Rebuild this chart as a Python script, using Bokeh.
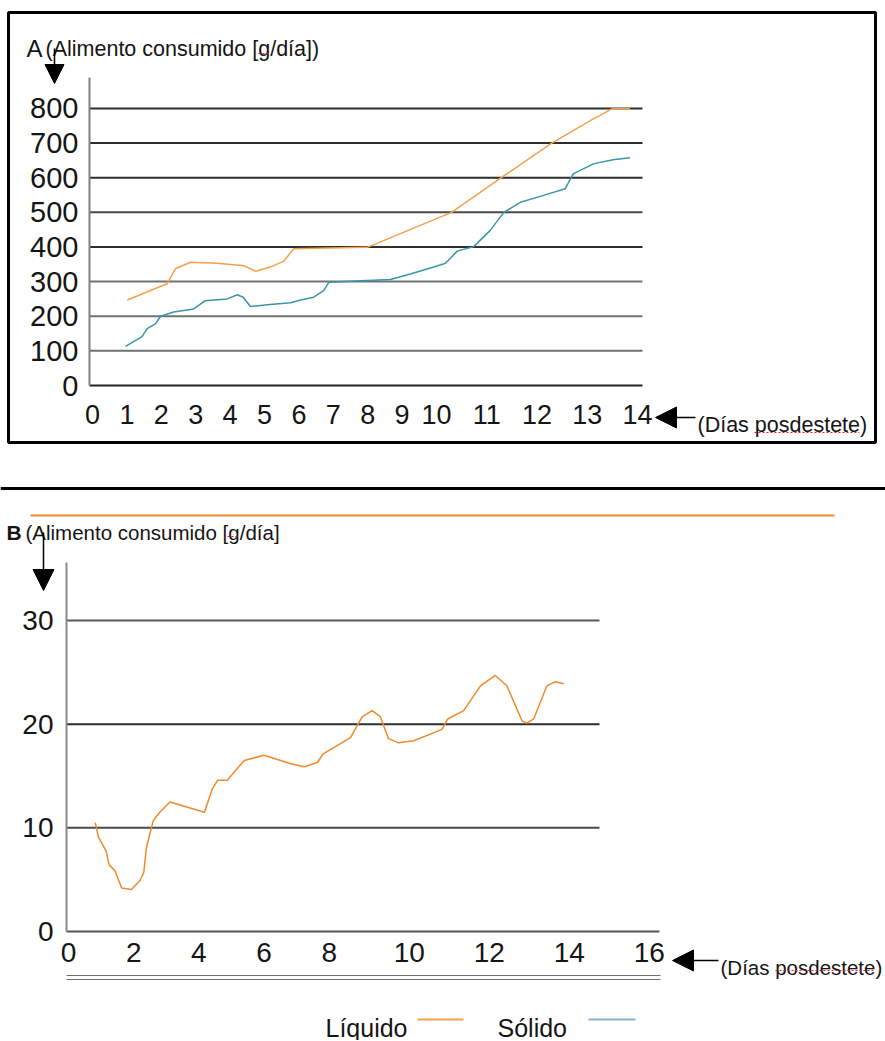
import numpy as np
from bokeh.plotting import figure
from bokeh.layouts import column
from bokeh.models import Range1d, FixedTicker, Label, Arrow, NormalHead, BoxAnnotation
from bokeh.embed import file_html
from bokeh.resources import INLINE

# ---------------- data ----------------
# Panel A: alimento consumido [g/día] vs días posdestete
dias_liquido_a = [1.01, 2.17, 2.41, 2.85, 3.62, 4.40, 4.74, 5.17, 5.56, 5.85, 7.99,
                  10.3, 11.24, 12.27, 13.06, 13.49, 13.85]
liquido_a = [247, 294, 337, 356, 353, 346, 330, 342, 359, 395, 399,
             500, 595, 698, 765, 799, 799]

dias_solido_a = [0.96, 1.44, 1.59, 1.83, 1.98, 2.36, 2.94, 3.28, 3.92, 4.21, 4.38,
                 4.59, 5.08, 5.76, 6.05, 6.43, 6.72, 6.87, 7.99, 8.66, 9.24, 9.92,
                 10.18, 10.41, 10.74, 11.07, 11.34, 11.67, 12.13, 12.56, 12.72,
                 13.12, 13.51, 13.85]
solido_a = [113, 141, 164, 178, 200, 212, 221, 245, 250, 262, 255,
            228, 233, 239, 247, 255, 274, 298, 303, 306, 322, 342,
            353, 388, 401, 448, 500, 529, 549, 568, 611,
            640, 652, 658]

# Panel B: alimento consumido [g/día] vs días posdestete
dias_liquido_b = [0.82, 0.92, 1.15, 1.25, 1.42, 1.63, 1.93, 2.19, 2.31, 2.39, 2.6,
                  2.8, 3.11, 4.17, 4.41, 4.58, 4.87, 5.39, 6.0, 6.8, 7.23, 7.64,
                  7.8, 8.53, 8.82, 9.07, 9.28, 9.48, 9.73, 10.11, 10.82, 10.96,
                  11.36, 11.78, 12.15, 12.44, 12.82, 12.94, 13.11, 13.44, 13.65, 13.86]
liquido_b = [10.5, 9.1, 7.8, 6.4, 5.9, 4.2, 4.05, 4.9, 5.7, 8.1, 10.7,
             11.5, 12.5, 11.5, 13.75, 14.6, 14.6, 16.5, 17.0, 16.2, 15.9, 16.3,
             17.1, 18.7, 20.7, 21.3, 20.7, 18.6, 18.2, 18.4, 19.5, 20.5,
             21.3, 23.7, 24.7, 23.7, 20.3, 20.1, 20.5, 23.7, 24.1, 23.9]

ticks_y_a = [0, 100, 200, 300, 400, 500, 600, 700, 800]
ticks_x_a = list(range(0, 15))
ticks_y_b = [0, 10, 20, 30]
ticks_x_b = [0, 2, 4, 6, 8, 10, 12, 14, 16]
grid_a = [100, 200, 300, 400, 500, 600, 700, 800]
grid_b = [10, 20, 30]

titulo_y = "(Alimento consumido [g/día])"
titulo_y_b = "(Alimento consumido [g/día]"
titulo_x = "(Días posdestete)"
serie_liq = "Líquido"
serie_sol = "Sólido"

# ---------------- styles ----------------
FONT = "Liberation Sans"
C_LIQ_A = "#f5a04c"
C_SOL_A = "#3a96a8"
C_LIQ_B = "#f08a2c"
C_LEG_SOL = "#86b4cc"
C_TXT = "#151515"
C_SQUIG = "#e02020"
GRID_COLORS_A = ["#727272", "#727272", "#727272", "#2e2e2e", "#4a4a4a", "#2e2e2e",
                 "#2e2e2e", "#2e2e2e"]
GRID_COLORS_B = ["#4a4a4a", "#2e2e2e", "#5a5a5a"]
W = 885

# irregular spacing of the original day axes
SPLIT_A, K_A = 10, 50.25 / 34.4
SPLIT_B, K_B = 8, 40.0 / 32.6


def stretch(d, split, k):
    d = np.asarray(d, dtype=float)
    return np.where(d <= split, d, split + (d - split) * k)


def style_axis(ax, size, standoff):
    ax.major_tick_in = 0
    ax.major_tick_out = 0
    ax.minor_tick_in = 0
    ax.minor_tick_out = 0
    ax.axis_line_color = None
    ax.major_label_text_font = FONT
    ax.major_label_text_color = C_TXT
    ax.major_label_text_font_size = size
    ax.major_label_standoff = standoff


def add_line(p, conv, X0, Y0, X1, Y1, color, width, dash="solid"):
    x0, y0 = conv(X0, Y0)
    x1, y1 = conv(X1, Y1)
    p.add_layout(Arrow(end=None, x_start=x0, y_start=y0, x_end=x1, y_end=y1,
                       line_color=color, line_width=width, line_dash=dash))


def add_arrow(p, conv, X0, Y0, X1, Y1, size):
    x0, y0 = conv(X0, Y0)
    x1, y1 = conv(X1, Y1)
    p.add_layout(Arrow(end=NormalHead(size=size, fill_color="black", line_color="black",
                                      line_width=1),
                       x_start=x0, y_start=y0, x_end=x1, y_end=y1, line_width=1.5,
                       line_color="black"))


def add_text(p, conv, X, Y, text, size, bold=False):
    x, y = conv(X, Y)
    p.add_layout(Label(x=x, y=y, text=text, text_font=FONT, text_font_size=size,
                       text_font_style="bold" if bold else "normal",
                       text_color=C_TXT, text_baseline="alphabetic"))


# ---------------- panel A ----------------
HA = 478
PXU_A, PXV_A = 34.4, 0.3463
xa0 = -92 / PXU_A
xa1 = xa0 + W / PXU_A
ya1 = 385 / PXV_A
ya0 = ya1 - HA / PXV_A


def pa(X, Y):
    return xa0 + X / PXU_A, ya1 - Y / PXV_A


pA = figure(width=W, height=HA, x_range=Range1d(xa0, xa1), y_range=Range1d(ya0, ya1),
            min_border=0, output_backend="svg", toolbar_location=None)
pA.outline_line_color = None
pA.grid.visible = False

tu_a = [round(float(v), 6) for v in stretch(ticks_x_a, SPLIT_A, K_A)]
pA.xaxis.ticker = FixedTicker(ticks=tu_a)
pA.xaxis.major_label_overrides = {u: str(d) for u, d in zip(tu_a, ticks_x_a)}
pA.yaxis.ticker = FixedTicker(ticks=ticks_y_a)
ax_x_a, _ = pa(89, 0)
pA.xaxis.fixed_location = 0
pA.yaxis.fixed_location = ax_x_a
style_axis(pA.xaxis[0], "27px", 19)
style_axis(pA.yaxis[0], "29px", 11)

# grid lines and axis lines
gx_end_a, _ = pa(642, 0)
_, top_a = pa(0, 77)
pA.segment(x0=[ax_x_a] * len(grid_a), y0=grid_a, x1=[gx_end_a] * len(grid_a), y1=grid_a,
           line_color=GRID_COLORS_A, line_width=2)
pA.segment(x0=[ax_x_a], y0=[0], x1=[gx_end_a], y1=[0], line_color="#222222", line_width=2)
pA.segment(x0=[ax_x_a], y0=[0], x1=[ax_x_a], y1=[top_a], line_color="#808080", line_width=2)

pA.line(stretch(dias_liquido_a, SPLIT_A, K_A), liquido_a, line_color=C_LIQ_A, line_width=1.5)
pA.line(stretch(dias_solido_a, SPLIT_A, K_A), solido_a, line_color=C_SOL_A, line_width=1.5)

# frame box
bl, bt = pa(8, 12)
br, bb = pa(875, 442)
pA.add_layout(BoxAnnotation(left=bl, right=br, top=bt, bottom=bb, fill_color=None,
                            fill_alpha=0, line_color="black", line_alpha=1.0,
                            line_width=3))

add_text(pA, pa, 26, 48, "A", "24px")
add_text(pA, pa, 45, 48, titulo_y, "21.5px")
add_text(pA, pa, 697, 424, titulo_x, "21.5px")
add_arrow(pA, pa, 54, 48, 54, 83, 19)
add_arrow(pA, pa, 695, 417, 655, 417, 21)
add_line(pA, pa, 258, 53, 270, 53, C_SQUIG, 1.2, "2 2")
add_line(pA, pa, 754, 432, 859, 432, C_SQUIG, 1.2, "2 2")

# ---------------- panel B ----------------
TOPB = HA
HB = 562
PXU_B, PXV_B = 32.6, 10.367
xb0 = -68 / PXU_B
xb1 = xb0 + W / PXU_B
yb1 = (931 - TOPB) / PXV_B
yb0 = yb1 - HB / PXV_B


def pb(X, Y):
    return xb0 + X / PXU_B, yb1 - (Y - TOPB) / PXV_B


pB = figure(width=W, height=HB, x_range=Range1d(xb0, xb1), y_range=Range1d(yb0, yb1),
            min_border=0, output_backend="svg", toolbar_location=None)
pB.outline_line_color = None
pB.grid.visible = False

tu_b = [round(float(v), 6) for v in stretch(ticks_x_b, SPLIT_B, K_B)]
pB.xaxis.ticker = FixedTicker(ticks=tu_b)
pB.xaxis.major_label_overrides = {u: str(d) for u, d in zip(tu_b, ticks_x_b)}
pB.yaxis.ticker = FixedTicker(ticks=ticks_y_b)
ax_x_b, _ = pb(66, TOPB)
pB.xaxis.fixed_location = 0
pB.yaxis.fixed_location = ax_x_b
style_axis(pB.xaxis[0], "28px", 11)
style_axis(pB.yaxis[0], "28px", 13)

gx_end_b, _ = pb(599, TOPB)
ax_end_b, _ = pb(659, TOPB)
_, top_b = pb(0, 562)
pB.segment(x0=[ax_x_b] * len(grid_b), y0=grid_b, x1=[gx_end_b] * len(grid_b), y1=grid_b,
           line_color=GRID_COLORS_B, line_width=2)
pB.segment(x0=[ax_x_b], y0=[0], x1=[ax_end_b], y1=[0], line_color="#555555", line_width=2)
pB.segment(x0=[ax_x_b], y0=[0], x1=[ax_x_b], y1=[top_b], line_color="#8a8a8a", line_width=2)

pB.line(stretch(dias_liquido_b, SPLIT_B, K_B), liquido_b, line_color=C_LIQ_B, line_width=1.5)

# separator, stray line, bottom double rule
add_line(pB, pb, 0, 488, W, 488, "black", 3)
add_line(pB, pb, 30, 515, 834, 515, C_LIQ_B, 2)
add_line(pB, pb, 66, 975, 660, 975, "#707070", 1)
add_line(pB, pb, 66, 979, 660, 979, "#707070", 1)

add_text(pB, pb, 6, 532, "B", "21px", bold=True)
add_text(pB, pb, 25, 532, titulo_y_b, "20.5px")
add_text(pB, pb, 720, 967, titulo_x, "20.5px")
add_arrow(pB, pb, 43, 532, 43, 590, 21)
add_arrow(pB, pb, 718, 960, 672, 960, 21)
add_line(pB, pb, 227, 536, 239, 536, C_SQUIG, 1.2, "2 2")
add_line(pB, pb, 775, 970, 875, 970, C_SQUIG, 1.2, "2 2")

# legend
add_text(pB, pb, 325, 1027, serie_liq, "25px")
add_text(pB, pb, 497, 1027, serie_sol, "25px")
add_line(pB, pb, 417, 1019, 463, 1019, C_LIQ_A, 2)
add_line(pB, pb, 588, 1019, 635, 1019, C_LEG_SOL, 2)

layout = column(pA, pB, spacing=0)
open("out.html", "w").write(file_html(layout, INLINE))
